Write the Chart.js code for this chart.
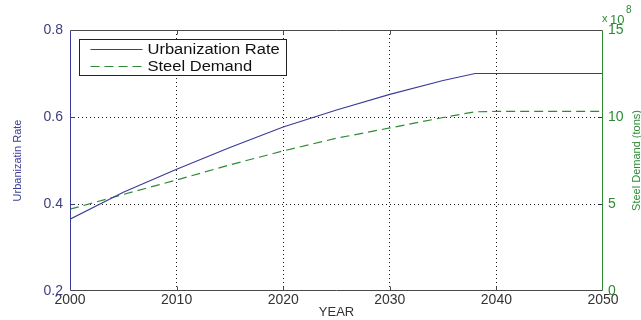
<!DOCTYPE html>
<html>
<head>
<meta charset="utf-8">
<script src="https://cdn.jsdelivr.net/npm/chart.js@4/dist/chart.umd.min.js"></script>
<style>
  html, body { margin: 0; padding: 0; background: #fff; }
  #wrap { width: 641px; height: 320px; position: relative; }
</style>
</head>
<body>
<div id="wrap"><canvas id="c"></canvas></div>
<script>
// Urbanization rate vs. projected steel demand, 2000-2050
const years = [2000, 2005, 2010, 2015, 2020, 2025, 2030, 2035, 2038, 2040, 2045, 2050];
const urbanRate = [0.365, 0.427, 0.480, 0.530, 0.577, 0.616, 0.652, 0.684, 0.700, 0.700, 0.700, 0.700];
const steelDemand = [4.70, 5.55, 6.38, 7.25, 8.05, 8.78, 9.37, 9.97, 10.30, 10.32, 10.32, 10.32]; // x 10^8 tons
const xTicks = [2000, 2010, 2020, 2030, 2040, 2050];
const leftTicks = [0.2, 0.4, 0.6, 0.8];
const rightTicks = [0, 5, 10, 15];

const BLUE = '#3c3c98';
const GREEN = '#2f8a34';
const FRAME = '#4a4a4a';
const FONT = "'Liberation Sans', Arial, sans-serif";

const pts = (xs, ys) => xs.map((x, i) => ({ x, y: ys[i] }));

// Plot frame with inward tick marks, coloured per axis
const framePlugin = {
  id: 'frame',
  afterDatasetsDraw(chart) {
    const { ctx, chartArea: a, scales } = chart;
    const L = Math.round(a.left) + 0.5, R = Math.round(a.right) - 0.5;
    const T = Math.round(a.top) + 0.5, B = Math.round(a.bottom) - 0.5;
    ctx.save();
    ctx.lineWidth = 1;
    ctx.setLineDash([]);
    const seg = (x1, y1, x2, y2, c) => {
      ctx.strokeStyle = c; ctx.beginPath(); ctx.moveTo(x1, y1); ctx.lineTo(x2, y2); ctx.stroke();
    };
    seg(L, T, R, T, FRAME);
    seg(L, B, R, B, FRAME);
    xTicks.slice(1, -1).forEach(v => {
      const x = Math.round(scales.x.getPixelForValue(v)) + 0.5;
      seg(x, B, x, B - 4, FRAME);
      seg(x, T, x, T + 4, FRAME);
    });
    leftTicks.slice(1, -1).forEach(v => {
      const y = Math.round(scales.y.getPixelForValue(v)) + 0.5;
      seg(L, y, L + 4, y, BLUE);
    });
    rightTicks.slice(1, -1).forEach(v => {
      const y = Math.round(scales.y1.getPixelForValue(v)) + 0.5;
      seg(R, y, R - 4, y, '#303070');
    });
    seg(L, T, L, B, BLUE);
    seg(R, T, R, B, GREEN);
    ctx.restore();
  }
};

// Boxed legend in the upper-left corner of the plot
const legendBoxPlugin = {
  id: 'legendBox',
  afterDraw(chart) {
    const { ctx, chartArea: a } = chart;
    const x0 = a.left + 9.5, y0 = a.top + 9.5, w = 207, h = 36;
    ctx.save();
    ctx.fillStyle = '#fff';
    ctx.fillRect(x0, y0, w, h);
    ctx.strokeStyle = '#222';
    ctx.lineWidth = 1;
    ctx.strokeRect(x0, y0, w, h);
    const rows = [y0 + 9, y0 + 26];
    chart.data.datasets.forEach((ds, i) => {
      const y = Math.round(rows[i]) + 0.5;
      ctx.strokeStyle = ds.borderColor;
      ctx.lineWidth = 1.2;
      ctx.setLineDash(ds.borderDash || []);
      ctx.beginPath();
      ctx.moveTo(x0 + 11, y);
      ctx.lineTo(x0 + 63, y);
      ctx.stroke();
      ctx.setLineDash([]);
      ctx.save();
      ctx.translate(x0 + 68, y + 1);
      ctx.scale(1.18, 1);
      ctx.fillStyle = '#111';
      ctx.font = `14px ${FONT}`;
      ctx.textBaseline = 'middle';
      ctx.fillText(ds.label, 0, 0);
      ctx.restore();
    });
    ctx.restore();
  }
};

// Right-axis title (reading upward) and the exponent marker
const rightTitlePlugin = {
  id: 'rightTitle',
  afterDraw(chart) {
    const { ctx, chartArea: a } = chart;
    ctx.save();
    ctx.fillStyle = GREEN;
    ctx.font = `11px ${FONT}`;
    ctx.translate(640, (a.top + a.bottom) / 2);
    ctx.rotate(-Math.PI / 2);
    ctx.textAlign = 'center';
    ctx.textBaseline = 'alphabetic';
    ctx.fillText('Steel Demand (tons)', 0, 0);
    ctx.restore();

    ctx.save();
    ctx.fillStyle = GREEN;
    ctx.textAlign = 'left';
    ctx.textBaseline = 'alphabetic';
    ctx.font = `11px ${FONT}`;
    ctx.fillText('x', 602, 22);
    ctx.font = `13px ${FONT}`;
    ctx.fillText('10', 610, 24);
    ctx.font = `10px ${FONT}`;
    ctx.fillText('8', 626, 13);
    ctx.restore();
  }
};

const innerOnly = (lo, hi) => (c) => {
  const v = c.tick ? c.tick.value : null;
  return (v !== null && v > lo && v < hi) ? '#1a1a1a' : 'rgba(0,0,0,0)';
};

new Chart(document.getElementById('c'), {
  type: 'line',
  data: {
    datasets: [
      {
        label: 'Urbanization Rate',
        data: pts(years, urbanRate),
        yAxisID: 'y',
        borderColor: BLUE,
        borderWidth: 1.2,
        pointRadius: 0,
        tension: 0,
        fill: false
      },
      {
        label: 'Steel Demand',
        data: pts(years, steelDemand),
        yAxisID: 'y1',
        borderColor: GREEN,
        borderWidth: 1.2,
        borderDash: [9, 5],
        pointRadius: 0,
        tension: 0,
        fill: false
      }
    ]
  },
  options: {
    responsive: true,
    maintainAspectRatio: false,
    animation: false,
    layout: { padding: { top: 30, left: 0, right: 0, bottom: 0 } },
    plugins: { legend: { display: false }, tooltip: { enabled: false } },
    scales: {
      x: {
        type: 'linear',
        min: xTicks[0],
        max: xTicks[xTicks.length - 1],
        afterBuildTicks: s => { s.ticks = xTicks.map(v => ({ value: v })); },
        afterFit: s => { s.height = 29; },
        ticks: { color: '#333', font: { family: FONT, size: 14 }, padding: 1, maxRotation: 0, autoSkip: false, callback: v => String(v) },
        grid: { color: innerOnly(2001, 2049), drawTicks: false, lineWidth: 1 },
        border: { display: false, dash: [1, 3] },
        title: { display: true, text: 'YEAR', color: '#333', font: { family: FONT, size: 13 }, padding: { top: 0, bottom: 0 } }
      },
      y: {
        position: 'left',
        min: leftTicks[0],
        max: leftTicks[leftTicks.length - 1],
        afterBuildTicks: s => { s.ticks = leftTicks.map(v => ({ value: v })); },
        afterFit: s => { s.width = 70; },
        ticks: { color: '#3e3e80', font: { family: FONT, size: 14 }, padding: 7, callback: v => Number(v).toFixed(1) },
        grid: { color: innerOnly(0.25, 0.75), drawTicks: false, lineWidth: 1 },
        border: { display: false, dash: [1, 3] },
        title: { display: true, text: 'Urbanizatin Rate', color: BLUE, font: { family: FONT, size: 11 }, padding: { top: 11, bottom: 0 } }
      },
      y1: {
        position: 'right',
        min: rightTicks[0],
        max: rightTicks[rightTicks.length - 1],
        afterBuildTicks: s => { s.ticks = rightTicks.map(v => ({ value: v })); },
        afterFit: s => { s.width = 38; },
        ticks: { color: GREEN, font: { family: FONT, size: 14 }, padding: 5 },
        grid: { display: false, drawTicks: false },
        border: { display: false }
      }
    }
  },
  plugins: [framePlugin, legendBoxPlugin, rightTitlePlugin]
});
</script>
</body>
</html>
